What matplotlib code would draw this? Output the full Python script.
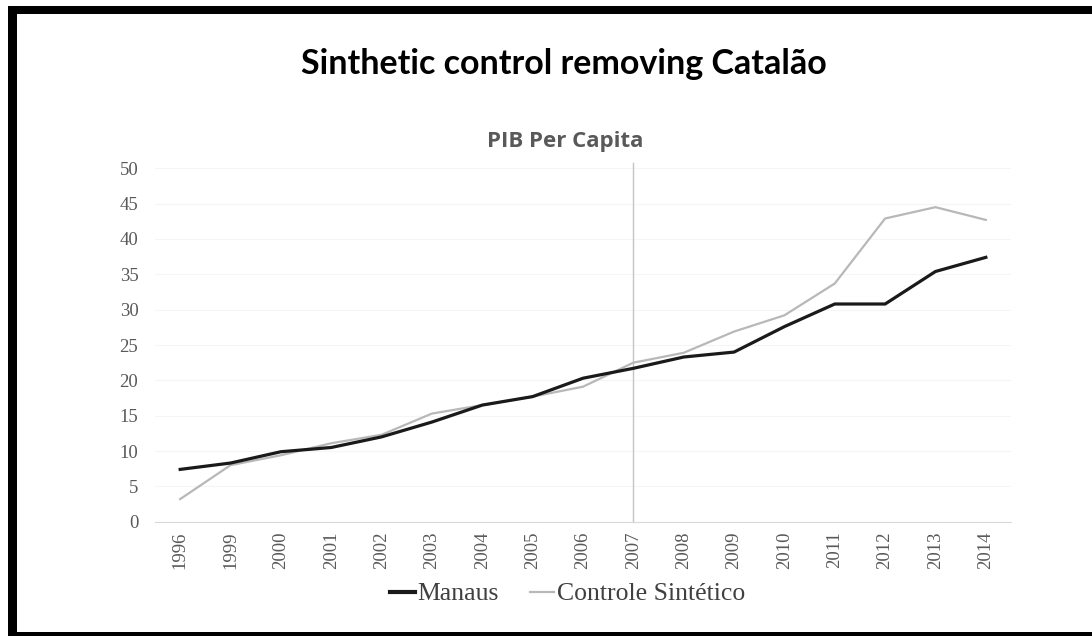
import matplotlib
matplotlib.use("Agg")
import matplotlib.pyplot as plt
from matplotlib.patches import Rectangle

# ---- data ----
years = ["1996", "1999", "2000", "2001", "2002", "2003", "2004", "2005", "2006",
         "2007", "2008", "2009", "2010", "2011", "2012", "2013", "2014"]
manaus = [7.4, 8.3, 9.9, 10.5, 12.0, 14.1, 16.5, 17.7, 20.3,
          21.7, 23.3, 24.0, 27.6, 30.8, 30.8, 35.4, 37.4]
controle = [3.2, 8.0, 9.4, 11.1, 12.3, 15.3, 16.5, 17.7, 19.1,
            22.5, 23.9, 26.9, 29.2, 33.7, 42.9, 44.5, 42.7]
yticks = [0, 5, 10, 15, 20, 25, 30, 35, 40, 45, 50]
treatment_year = "2007"
title = "Sinthetic control removing Catalão"
subtitle = "PIB Per Capita"
series_names = ["Manaus", "Controle Sintético"]

W, H = 1092, 636
fig = plt.figure(figsize=(W / 100, H / 100), dpi=100)
fig.patch.set_facecolor("white")

def px(x0, y0, x1, y1):
    """pixel box (top-left origin) -> figure fraction rect"""
    return [x0 / W, 1 - y1 / H, (x1 - x0) / W, (y1 - y0) / H]

ax = fig.add_axes(px(155, 168.3, 1011, 521.7))
x = list(range(len(years)))

ax.plot(x, controle, color="#b8b8b8", lw=1.6, label=series_names[1], zorder=3)
ax.plot(x, manaus, color="#1a1a1a", lw=2.3, label=series_names[0], zorder=4)

ti = years.index(treatment_year)
ax.plot([ti, ti], [0, 50.8], color="#c4c4c4", lw=1.0, clip_on=False, zorder=2)

ax.set_xlim(-0.5, len(years) - 0.5)
ax.set_ylim(0, 50)
ax.set_yticks(yticks)
ax.set_xticks(x)
ax.set_xticklabels(years, rotation=90)
ax.grid(axis="y", color="#f5f5f5", lw=0.8)
ax.set_axisbelow(True)
for s in ["top", "right", "left"]:
    ax.spines[s].set_visible(False)
ax.spines["bottom"].set_color("#d9d9d9")
ax.tick_params(axis="both", length=0, colors="#595959")
ax.tick_params(axis="y", pad=12)
ax.tick_params(axis="x", pad=7)
for lab in ax.get_xticklabels() + ax.get_yticklabels():
    lab.set_family("Liberation Serif")
    lab.set_fontsize(13.5)

handles, labels = ax.get_legend_handles_labels()
handles = handles[::-1]
labels = labels[::-1]
leg = fig.legend(handles, labels, loc="center", bbox_to_anchor=(568 / W, 1 - 594 / H),
                 ncol=2, frameon=False, handlelength=0.95, handletextpad=0.12,
                 columnspacing=1.2, prop={"family": "Liberation Serif", "size": 18.5})
for t in leg.get_texts():
    t.set_color("#404040")
leg.legend_handles[0].set_linewidth(3.0)

fig.text(564 / W, 1 - 64 / H, title, ha="center", va="center",
         fontsize=24.5, fontweight="bold", family="Lato", color="black")
fig.text(565 / W, 1 - 147 / H, subtitle, ha="center", va="baseline",
         fontsize=16, fontweight="bold", family="Open Sans", color="#595959")

# frame
for r in [px(8, 6, W, 14), px(8, 6, 17, H), px(8, 632, W, H)]:
    fig.add_artist(Rectangle((r[0], r[1]), r[2], r[3], transform=fig.transFigure,
                             facecolor="black", edgecolor="none"))

fig.savefig("out.png", dpi=100)
